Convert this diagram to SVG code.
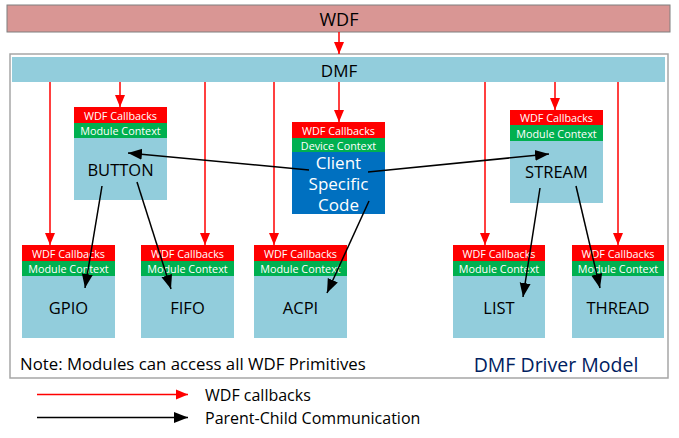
<svg xmlns="http://www.w3.org/2000/svg" width="679" height="438" viewBox="0 0 679 438">
<style>
text{font-family:"Open Sans","Noto Sans","Liberation Sans",sans-serif;text-anchor:middle;dominant-baseline:central}
.hdr{fill:#fff;font-size:10.8px}
.lbl{fill:#000;font-size:16.5px}
.cl{fill:#fff;font-size:17px}
.red{fill:#FF0000}
.grn{fill:#00B050}
.body{fill:#92CDDC}
.rl{stroke:#FF0000;stroke-width:1.5;fill:none;marker-end:url(#ra)}
.bl{stroke:#000;stroke-width:1.5;fill:none;marker-end:url(#ba)}
</style>
<defs>
<marker id="ra" markerUnits="userSpaceOnUse" markerWidth="12" markerHeight="12" viewBox="0 0 12 12" refX="12" refY="6" orient="auto"><path d="M0,1 L12,6 L0,11 Z" fill="#FF0000"/></marker>
<marker id="ba" markerUnits="userSpaceOnUse" markerWidth="14" markerHeight="14" viewBox="0 0 14 14" refX="14" refY="7" orient="auto"><path d="M0,1.5 L14,7 L0,12.5 Z" fill="#000"/></marker>
</defs>
<rect width="679" height="438" fill="#fff"/>
<g id="wdf"><rect x="7" y="5" width="663" height="27" fill="#D99694" stroke="#7F7F7F" stroke-width="1"/><text x="339" y="19" class="lbl" style="font-size:18px">WDF</text></g>
<g id="frame"><rect x="10" y="54" width="658" height="324" fill="none" stroke="#A6A6A6" stroke-width="1.5"/></g>
<g id="dmf"><rect x="12" y="57" width="653" height="25" fill="#92CDDC"/><text x="339" y="70" class="lbl" style="font-size:17px">DMF</text></g>
<g id="button"><rect x="74" y="107" width="93" height="16" class="red"/><text x="120.5" y="115" class="hdr">WDF Callbacks</text><rect x="74" y="123" width="93" height="15" class="grn"/><text x="120.5" y="130.5" class="hdr">Module Context</text><rect x="74" y="138" width="93" height="62" class="body"/><text x="120.5" y="169" class="lbl">BUTTON</text></g>
<g id="client"><rect x="292" y="122" width="93" height="16" class="red"/><text x="338.5" y="130" class="hdr">WDF Callbacks</text><rect x="292" y="138" width="93" height="14" class="grn"/><text x="338.5" y="145" class="hdr">Device Context</text><rect x="292" y="152" width="93" height="62" fill="#0070C0"/><text x="338.5" y="162" class="cl">Client</text><text x="338.5" y="183" class="cl">Specific</text><text x="338.5" y="204" class="cl">Code</text></g>
<g id="stream"><rect x="510" y="110" width="93" height="15" class="red"/><text x="556.5" y="117.5" class="hdr">WDF Callbacks</text><rect x="510" y="125" width="93" height="16" class="grn"/><text x="556.5" y="133" class="hdr">Module Context</text><rect x="510" y="141" width="93" height="62" class="body"/><text x="556.5" y="171" class="lbl">STREAM</text></g>
<g id="gpio"><rect x="22" y="245" width="93" height="16" class="red"/><text x="68.5" y="253" class="hdr">WDF Callbacks</text><rect x="22" y="261" width="93" height="15" class="grn"/><text x="68.5" y="268.5" class="hdr">Module Context</text><rect x="22" y="276" width="93" height="62" class="body"/><text x="68.5" y="307" class="lbl">GPIO</text></g>
<g id="fifo"><rect x="141" y="245" width="93" height="16" class="red"/><text x="187.5" y="253" class="hdr">WDF Callbacks</text><rect x="141" y="261" width="93" height="15" class="grn"/><text x="187.5" y="268.5" class="hdr">Module Context</text><rect x="141" y="276" width="93" height="62" class="body"/><text x="187.5" y="307" class="lbl">FIFO</text></g>
<g id="acpi"><rect x="254" y="245" width="93" height="16" class="red"/><text x="300.5" y="253" class="hdr">WDF Callbacks</text><rect x="254" y="261" width="93" height="15" class="grn"/><text x="300.5" y="268.5" class="hdr">Module Context</text><rect x="254" y="276" width="93" height="62" class="body"/><text x="300.5" y="307" class="lbl">ACPI</text></g>
<g id="list"><rect x="453" y="245" width="92" height="16" class="red"/><text x="499" y="253" class="hdr">WDF Callbacks</text><rect x="453" y="261" width="92" height="15" class="grn"/><text x="499" y="268.5" class="hdr">Module Context</text><rect x="453" y="276" width="92" height="62" class="body"/><text x="499" y="307" class="lbl">LIST</text></g>
<g id="thread"><rect x="572" y="245" width="92" height="16" class="red"/><text x="618" y="253" class="hdr">WDF Callbacks</text><rect x="572" y="261" width="92" height="15" class="grn"/><text x="618" y="268.5" class="hdr">Module Context</text><rect x="572" y="276" width="92" height="62" class="body"/><text x="618" y="307" class="lbl">THREAD</text></g>
<g id="connectors">
<line x1="339" y1="32" x2="339" y2="54" class="rl"/>
<line x1="50" y1="82" x2="50" y2="245" class="rl"/>
<line x1="120" y1="82" x2="120" y2="107" class="rl"/>
<line x1="205" y1="82" x2="205" y2="245" class="rl"/>
<line x1="274" y1="82" x2="274" y2="245" class="rl"/>
<line x1="339" y1="82" x2="339" y2="122" class="rl"/>
<line x1="485" y1="82" x2="485" y2="245" class="rl"/>
<line x1="555" y1="82" x2="555" y2="110" class="rl"/>
<line x1="618" y1="82" x2="618" y2="245" class="rl"/>
<line x1="309" y1="170" x2="128" y2="153" class="bl"/>
<line x1="368" y1="172" x2="549" y2="154" class="bl"/>
<line x1="102" y1="186" x2="85" y2="288" class="bl"/>
<line x1="137" y1="182" x2="171" y2="289" class="bl"/>
<line x1="369" y1="201" x2="327" y2="293" class="bl"/>
<line x1="540" y1="188" x2="523" y2="297" class="bl"/>
<line x1="576" y1="186" x2="600" y2="288" class="bl"/>
</g>
<text x="20" y="363" class="lbl" style="text-anchor:start;font-size:16.8px">Note: Modules can access all WDF Primitives</text>
<text x="556" y="364" class="lbl" style="fill:#002060;font-size:19.5px">DMF Driver Model</text>
<g id="legend">
<line x1="37" y1="394.5" x2="188" y2="394.5" class="rl"/>
<text x="205" y="395" class="lbl" style="text-anchor:start;font-size:16px">WDF callbacks</text>
<line x1="37" y1="417.5" x2="188" y2="417.5" class="bl"/>
<text x="205" y="418" class="lbl" style="text-anchor:start;font-size:16px">Parent-Child Communication</text>
</g>
</svg>
